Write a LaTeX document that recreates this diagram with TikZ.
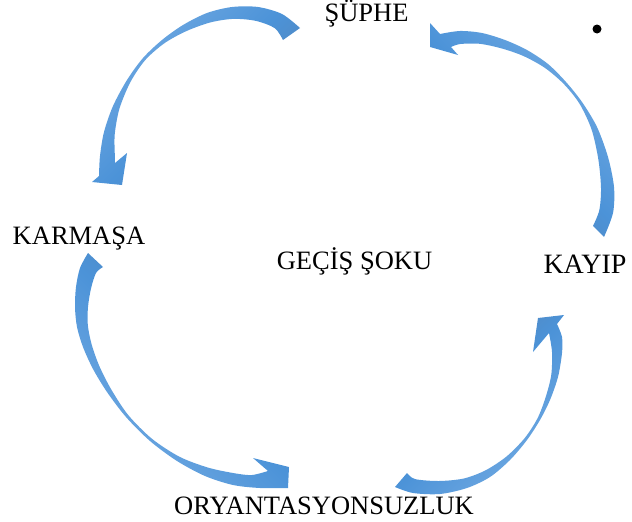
\documentclass[tikz,border=0pt]{standalone}
\usepackage{fontspec}
\setmainfont{Liberation Serif}
\definecolor{adark}{RGB}{86,126,172}
\definecolor{amid}{RGB}{76,147,216}
\definecolor{alight}{RGB}{114,170,226}
\begin{document}
\begin{tikzpicture}[x=1pt,y=-1pt,
  lbl/.style={font=\fontsize{26.5}{30}\selectfont, inner sep=0pt, anchor=base},
  bigl/.style={lbl, font=\fontsize{28}{32}\selectfont},
  band/.style={draw=none}]
\useasboundingbox (0,0) rectangle (632,522);

% labels
\node[lbl] (suphe) at (366.5,21) {ŞÜPHE};
\node[lbl] (karmasa) at (79,244.5) {KARMAŞA};
\node[lbl] (gecis) at (354.5,269) {GEÇİŞ ŞOKU};
\node[bigl] (kayip) at (585,273) {KAYIP};
\node[lbl] (oryan) at (324,514.5) {ORYANTASYONSUZLUK};
\fill (597,29) circle (4.5);

% arrow 1: SUPHE -> KARMASA
\path[band, left color=alight, right color=adark, middle color=amid, shading angle=45]
  plot[smooth] coordinates {(300,28) (282,14) (258,7) (232,7) (207,13) (183,25) (162,40) (143,58) (127,80) (113,106) (104,132) (100,156) (99,176)}
  -- (92,182) -- (122,185) -- (127,153) --
  plot[smooth] coordinates {(115,163) (114.9,157.7) (114.7,134.7) (119.4,108.8) (130.4,82.1) (145.3,60) (164.6,43.1) (186.6,31) (210.5,22.4) (233.4,18.9) (256,20.9) (274.8,28.2) (283,40)}
  -- cycle;

% arrow 2: KAYIP -> SUPHE
\path[band, left color=alight, right color=adark, middle color=amid, shading angle=-45]
  plot[smooth] coordinates {(604,237) (613,213) (614,187) (608,157) (597,127) (582,102) (566,82) (548,64) (527,50) (505,40) (482,33) (460,31) (440,34)}
  -- (430,23) -- (430,47) -- (458,55) --
  plot[smooth] coordinates {(451,47) (460.3,44) (479.8,43.8) (501.9,48.5) (523.6,56.1) (544.9,67.9) (563.8,84) (579.5,103.7) (591.6,129.6) (598.4,159.7) (601,188.2) (599.3,210.2) (593,226)}
  -- cycle;

% arrow 3: KARMASA -> ORYANTASYONSUZLUK
\path[band, left color=adark, right color=alight, middle color=amid, shading angle=-45]
  plot[smooth] coordinates {(88,253) (80,268) (76,287) (75,307) (77,327) (83,347) (93,369) (107,392) (126,417) (150,441) (177,461) (205,476) (233,485) (260,488) (288,488)}
  -- (289,467) -- (253,458) --
  plot[smooth] coordinates {(268,471) (252,475) (235.4,473.4) (208.4,467.7) (179.6,456.8) (152,438.8) (128.2,415) (111,389) (99.1,365.5) (91.5,343.9) (87.8,324.8) (88,307) (91,288.5) (96,273) (103,267)}
  -- cycle;

% arrow 4: ORYANTASYONSUZLUK -> KAYIP
\path[band, left color=adark, right color=alight, middle color=amid, shading angle=45]
  plot[smooth] coordinates {(395,487) (413,493) (440,494) (467,488) (490,477) (510,460) (527,440) (540,420) (550,400) (558,377) (562,353) (562,337) (557,324)}
  -- (564,315) -- (538,318) -- (533,352) --
  plot[smooth] coordinates {(549,333) (552,352) (551.2,375.3) (545.4,398) (537.4,418.5) (524.6,438.2) (506.5,456.5) (485.6,470.3) (463.8,478.5) (438.8,481) (415.1,479.1) (407,473)}
  -- cycle;
\end{tikzpicture}
\end{document}
